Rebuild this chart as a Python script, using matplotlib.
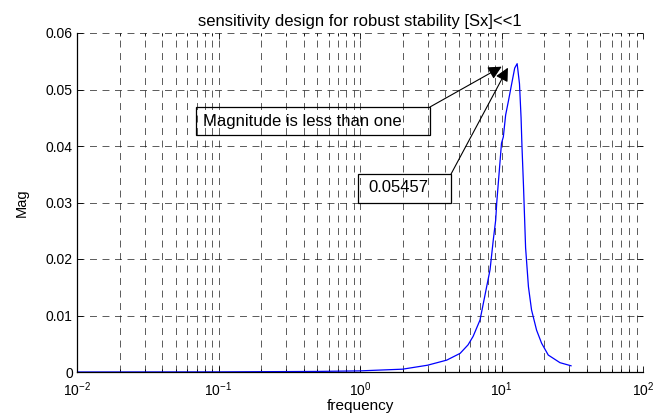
import numpy as np
import matplotlib
matplotlib.use('Agg')
import matplotlib.pyplot as plt
from matplotlib.patches import Rectangle
from matplotlib.ticker import LogLocator, NullFormatter

# ── data (frequency vs |S|) ─────────────────────────────────────────────────
freq = [0.01, 0.1, 0.5, 1.0, 2.0, 3.0, 4.1, 5.1, 5.8, 6.3, 7.05, 7.6, 8.3,
        8.75, 9.1, 9.25, 10.0, 10.3, 10.7, 11.2, 11.8, 12.4, 12.9, 13.4,
        13.75, 13.95, 14.3, 14.8, 15.5, 16.3, 17.7, 19.2, 21.4, 25.9, 31.0]
mag = [0.0, 0.00002, 0.0001, 0.0002, 0.0005, 0.0012, 0.0021, 0.0033, 0.0048,
       0.0063, 0.0092, 0.0133, 0.0181, 0.0234, 0.0269, 0.0299, 0.0405,
       0.0416, 0.0455, 0.0480, 0.0510, 0.0538, 0.05457, 0.0510, 0.0450,
       0.0400, 0.0330, 0.0220, 0.0151, 0.0110, 0.0074, 0.0051, 0.0030,
       0.00165, 0.0011]

yticks = [0, 0.01, 0.02, 0.03, 0.04, 0.05, 0.06]
ytick_labels = ['0', '0.01', '0.02', '0.03', '0.04', '0.05', '0.06']

plt.rcParams['font.family'] = ['Liberation Sans', 'DejaVu Sans']
plt.rcParams['mathtext.fontset'] = 'custom'
plt.rcParams['mathtext.rm'] = 'Liberation Sans'
plt.rcParams['mathtext.it'] = 'Liberation Sans'
plt.rcParams['lines.scale_dashes'] = False

fig = plt.figure(figsize=(6.55, 4.16), dpi=100)
ax = fig.add_axes([77/655, 1 - 372/416, 566/655, 339/416])

ax.plot(freq, mag, color='#0000ff', linewidth=0.9)

ax.set_xscale('log')
ax.set_xlim(1e-2, 1e2)
ax.set_ylim(0, 0.06)
ax.set_yticks(yticks)
ax.set_yticklabels(ytick_labels)
ax.xaxis.set_minor_locator(LogLocator(base=10, subs=np.arange(2, 10)))
ax.xaxis.set_minor_formatter(NullFormatter())

# MATLAB-like grid: dashed, major + minor on the log axis
dash = (0, (5, 4))
ax.grid(True, which='major', axis='both', color='0.1', linewidth=0.5, linestyle=dash)
ax.grid(True, which='minor', axis='x', color='0.1', linewidth=0.5, linestyle=dash)
ax.set_axisbelow(True)

for s in ['top', 'right']:
    ax.spines[s].set_visible(False)
ax.spines['left'].set_linewidth(0.9)
ax.spines['bottom'].set_linewidth(0.9)

ax.tick_params(which='both', direction='in', top=True, right=True,
               labelsize=10, width=0.6, colors='k')
ax.tick_params(which='major', length=4)
ax.tick_params(which='minor', length=2.5)
ax.tick_params(axis='x', which='major', pad=6)
ax.tick_params(axis='y', which='major', pad=3)

ax.set_title('sensitivity design for robust stability [Sx]<<1', fontsize=12, pad=5)
ax.set_xlabel('frequency', fontsize=11, labelpad=0)
ax.set_ylabel('Mag', fontsize=10.5, labelpad=12)

# ── annotation boxes + arrows (MATLAB annotation objects) ───────────────────
box1 = (0.0693, 0.04195, 3.12, 0.0469)
box2 = (0.968, 0.02991, 4.40, 0.03504)
for x0, y0, x1, y1 in [box1, box2]:
    ax.add_patch(Rectangle((x0, y0), x1 - x0, y1 - y0, fill=False,
                           edgecolor='k', linewidth=0.9, zorder=4))

ax.text(0.0777, 0.0444, 'Magnitude is less than one', fontsize=12,
        va='center', ha='left', zorder=5)
ax.text(1.139, 0.03257, '0.05457', fontsize=12, va='center', ha='left', zorder=5)

ax.annotate('', xy=(10.03, 0.05404), xytext=(3.12, 0.0469),
            arrowprops=dict(arrowstyle='-|>', color='k', lw=0.8,
                            mutation_scale=20, shrinkA=0, shrinkB=0), zorder=6)
ax.annotate('', xy=(11.1, 0.05386), xytext=(4.40, 0.03504),
            arrowprops=dict(arrowstyle='-|>', color='k', lw=0.8,
                            mutation_scale=20, shrinkA=0, shrinkB=0), zorder=6)

plt.savefig('out.png', dpi=100)
